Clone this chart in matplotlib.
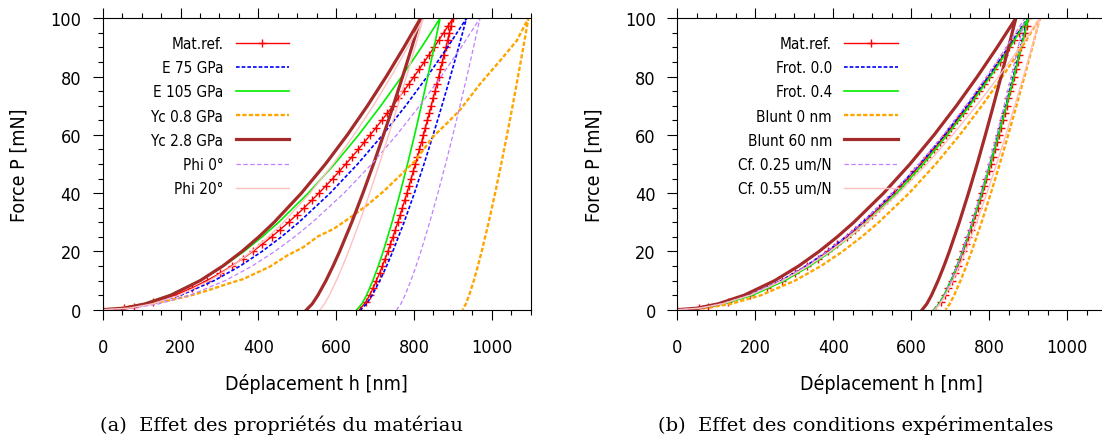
import matplotlib
matplotlib.use('Agg')
import matplotlib.pyplot as plt
from matplotlib.ticker import MultipleLocator

plt.rcParams['font.family'] = ['DejaVu Sans']
plt.rcParams['font.stretch'] = 'condensed'

# niveaux de force communs (mN)
P_charge = [0, 0.5, 2, 5, 10, 15, 20, 25, 30, 40, 50, 60, 70, 80, 90, 100]
P_decharge = [100, 90, 80, 70, 60, 50, 40, 30, 20, 15, 10, 5, 2, 0]

# materiau de reference (points tous les 2.5 mN)
P_ref_charge = [0, 0.5, 1, 2.5, 5, 7.5, 10, 12.5, 15, 17.5, 20, 22.5, 25, 27.5, 30, 32.5,
                35, 37.5, 40, 42.5, 45, 47.5, 50, 52.5, 55, 57.5, 60, 62.5, 65, 67.5, 70,
                72.5, 75, 77.5, 80, 82.5, 85, 87.5, 90, 92.5, 95, 97.5, 100]
h_ref_charge = [0, 55.4, 79.7, 129.2, 186.0, 230.2, 267.8, 301.2, 331.6, 359.6, 385.8, 410.5,
                433.9, 456.2, 477.5, 498.2, 518.0, 537.1, 555.7, 573.7, 591.1, 608.2, 624.9,
                641.1, 657.1, 672.6, 687.9, 702.7, 717.5, 731.9, 746.0, 759.9, 773.6, 787.0,
                800.3, 813.3, 826.2, 838.9, 851.4, 863.7, 876.1, 888.1, 900]
P_ref_decharge = [97.5, 95, 92.5, 90, 87.5, 85, 82.5, 80, 77.5, 75, 72.5, 70, 67.5, 65, 62.5,
                  60, 57.5, 55, 52.5, 50, 47.5, 45, 42.5, 40, 37.5, 35, 32.5, 30, 27.5, 25,
                  22.5, 20, 17.5, 15, 12.5, 10, 7.5, 5, 2.5, 0]
h_ref_decharge = [895.6, 891.0, 886.5, 882.0, 877.4, 872.8, 868.1, 863.4, 858.7, 853.9, 849.1,
                  844.3, 839.4, 834.4, 829.4, 824.4, 819.3, 814.1, 808.9, 803.6, 798.3, 792.8,
                  787.3, 781.8, 776.1, 770.3, 764.4, 758.4, 752.2, 745.9, 739.5, 732.9, 726.0,
                  718.9, 711.4, 703.6, 695.2, 686.1, 675.6, 660]

# (a) proprietes du materiau
h_E75_charge = [0, 61.8, 125.8, 201.2, 287.0, 353.4, 409.6, 459.3, 504.3, 584.5, 655.3, 719.6, 778.8, 833.9, 885.8, 935]
h_E75_decharge = [935, 914.6, 893.5, 871.8, 849.3, 825.8, 801.0, 774.5, 745.6, 729.7, 712.4, 692.6, 678.0, 663]
h_E105_charge = [0, 49.4, 104.6, 171.8, 249.8, 310.9, 363.3, 409.8, 452.2, 528.3, 596.1, 657.8, 714.9, 768.5, 819.0, 867]
h_E105_decharge = [867, 851.5, 835.5, 818.9, 801.6, 783.4, 764.2, 743.6, 720.8, 708.2, 694.3, 678.2, 666.1, 653]
P_Yc08_charge = [0, 0.7, 1.8, 3.0, 4.8, 6.6, 8.8, 10.5, 14.8, 18.5, 21.4, 25.2, 27.7, 31.5, 35.7,
                 40.5, 46.0, 51.1, 59.5, 64.0, 68.5, 77.5, 85.4, 92.3, 100]
h_Yc08_charge = [0, 50, 104, 165, 224, 270, 319, 361, 430, 473, 515, 554, 593, 635, 678, 721,
                 764, 803, 850, 885, 918, 970, 1021, 1064, 1094]
h_Yc08_decharge = [1094, 1080.9, 1067.3, 1053.5, 1039.1, 1024.2, 1008.5, 992.0, 974.0, 964.3, 953.8, 941.9, 933.3, 925]
h_Yc28_charge = [0, 54.0, 109.9, 175.8, 250.8, 308.8, 357.9, 401.3, 440.7, 510.7, 572.6, 628.8, 680.5, 728.7, 774.0, 817]
h_Yc28_decharge = [817, 794.2, 770.8, 746.7, 721.8, 696.0, 668.8, 640.1, 609.0, 592.1, 573.9, 553.3, 538.5, 524]
h_Phi0_charge = [0, 73.1, 143.8, 224.9, 315.3, 384.4, 442.2, 493.1, 538.9, 620.2, 691.4, 755.7, 814.8, 869.6, 921.0, 969.6]
h_Phi0_decharge = [969.6, 953.0, 935.9, 918.3, 900.1, 881.2, 861.4, 840.4, 817.7, 805.4, 792.0, 777.0, 766.2, 755.6]
h_Phi20_charge = [0, 66.1, 127.9, 197.8, 275.3, 333.9, 382.9, 425.8, 464.5, 532.6, 592.4, 646.1, 695.3, 740.9, 783.6, 824]
h_Phi20_decharge = [824, 802.5, 780.6, 758.1, 734.9, 711.0, 686.1, 659.8, 631.8, 616.7, 600.6, 582.7, 570.1, 558.5]

# (b) conditions experimentales
h_Frot0_charge = [0, 55.0, 114.2, 185.2, 266.6, 330.2, 384.1, 432.0, 475.4, 553.3, 622.3, 685.2, 743.3, 797.6, 849.0, 898]
h_Frot0_decharge = [898, 880.0, 861.4, 842.3, 822.4, 801.6, 779.8, 756.4, 731.0, 717.0, 701.8, 684.3, 671.5, 658]
h_Frot4_charge = [0, 59.5, 121.1, 193.7, 276.3, 340.2, 394.3, 442.1, 485.5, 562.6, 630.8, 692.6, 749.6, 802.7, 852.7, 900]
h_Frot4_decharge = [900, 881.8, 863.1, 843.8, 823.8, 802.8, 780.8, 757.2, 731.5, 717.4, 702.0, 684.3, 671.3, 658]
h_Bl0_charge = [0, 70.1, 137.9, 215.6, 302.3, 368.5, 424.0, 472.8, 516.7, 594.6, 662.9, 724.5, 781.1, 833.8, 883.0, 929.6]
h_Bl0_decharge = [929.6, 910.1, 890.1, 869.6, 848.6, 826.8, 804.1, 780.2, 754.7, 741.0, 726.3, 710.0, 698.6, 688]
h_Bl60_charge = [0, 49.5, 104.8, 172.0, 250.1, 311.3, 363.7, 410.3, 452.7, 529.0, 596.8, 658.6, 715.8, 769.4, 819.9, 868]
h_Bl60_decharge = [868, 849.3, 830.2, 810.4, 790.0, 768.9, 746.6, 723.1, 697.6, 683.8, 668.8, 652.0, 639.9, 628]
h_Cf25_charge = [0, 55.4, 114.6, 185.6, 266.9, 330.2, 384.0, 431.6, 474.8, 552.1, 620.4, 682.5, 739.7, 793.1, 843.3, 891]
h_Cf25_decharge = [891, 873.9, 856.2, 838.0, 819.0, 799.1, 778.2, 755.7, 731.1, 717.5, 702.7, 685.7, 673.0, 660]
h_Cf55_charge = [0, 55.6, 115.4, 187.5, 270.8, 336.1, 391.8, 441.4, 486.5, 567.7, 639.9, 705.9, 767.0, 824.3, 878.4, 930]
h_Cf55_decharge = [930, 909.0, 887.4, 865.3, 842.4, 818.6, 793.8, 767.4, 738.9, 723.4, 706.6, 687.6, 673.8, 660]

# styles facon gnuplot
st_ref = dict(color='#ff0000', lw=1.0, marker='+', ms=5.5, mew=1.0)
st_bleu = dict(color='#0000ff', lw=1.2, dashes=(2.2, 1.2))
st_vert = dict(color='#00ee00', lw=1.2)
st_orange = dict(color='#ffa500', lw=1.7, dashes=(1.8, 0.9))
st_brun = dict(color='#a52a2a', lw=2.3)
st_lila = dict(color='#c080ff', lw=0.9, dashes=(3.5, 2.0))
st_rose = dict(color='#ffc0c0', lw=1.0)

fig = plt.figure(figsize=(11.02, 4.39), dpi=100)
ax1 = fig.add_axes([0.0932, 0.2923, 0.3884, 0.6638])
ax2 = fig.add_axes([0.6146, 0.2923, 0.3893, 0.6638])


def courbe(ax, h_c, h_d, label, st, P_c=P_charge, P_d=P_decharge):
    ax.plot(list(h_c) + list(h_d), list(P_c) + list(P_d), label=label, **st)


courbe(ax1, h_ref_charge, h_ref_decharge, 'Mat.ref.', st_ref, P_ref_charge, P_ref_decharge)
courbe(ax1, h_E75_charge, h_E75_decharge, 'E 75 GPa', st_bleu)
courbe(ax1, h_E105_charge, h_E105_decharge, 'E 105 GPa', st_vert)
courbe(ax1, h_Yc08_charge, h_Yc08_decharge, 'Yc 0.8 GPa', st_orange, P_Yc08_charge)
courbe(ax1, h_Yc28_charge, h_Yc28_decharge, 'Yc 2.8 GPa', st_brun)
courbe(ax1, h_Phi0_charge, h_Phi0_decharge, 'Phi 0°', st_lila)
courbe(ax1, h_Phi20_charge, h_Phi20_decharge, 'Phi 20°', st_rose)

courbe(ax2, h_ref_charge, h_ref_decharge, 'Mat.ref.', st_ref, P_ref_charge, P_ref_decharge)
courbe(ax2, h_Frot0_charge, h_Frot0_decharge, 'Frot. 0.0', st_bleu)
courbe(ax2, h_Frot4_charge, h_Frot4_decharge, 'Frot. 0.4', st_vert)
courbe(ax2, h_Bl0_charge, h_Bl0_decharge, 'Blunt 0 nm', st_orange)
courbe(ax2, h_Bl60_charge, h_Bl60_decharge, 'Blunt 60 nm', st_brun)
courbe(ax2, h_Cf25_charge, h_Cf25_decharge, 'Cf. 0.25 um/N', st_lila)
courbe(ax2, h_Cf55_charge, h_Cf55_decharge, 'Cf. 0.55 um/N', st_rose)

for ax, xleg in [(ax1, 0.4353), (ax2, 0.5138)]:
    ax.set_xlim(0, 1100)
    ax.set_ylim(0, 100)
    ax.xaxis.set_major_locator(MultipleLocator(200))
    ax.xaxis.set_minor_locator(MultipleLocator(50))
    ax.yaxis.set_major_locator(MultipleLocator(20))
    ax.yaxis.set_minor_locator(MultipleLocator(5))
    ax.tick_params(which='both', direction='out', top=True, right=False, width=0.8, labelsize=13)
    ax.tick_params(which='major', length=7.5)
    ax.tick_params(which='minor', length=3.5)
    ax.tick_params(axis='x', pad=13)
    ax.tick_params(axis='y', pad=8)
    for sp in ax.spines.values():
        sp.set_linewidth(0.8)
    ax.set_xlabel('Déplacement h [nm]', fontsize=14, va='center')
    ax.set_ylabel('Force P [mN]', fontsize=14, va='center')
    ax.xaxis.set_label_coords(0.5, -0.252)
    ax.yaxis.set_label_coords(-0.195, 0.5)
    ax.legend(loc='upper right', bbox_to_anchor=(xleg, 0.939), frameon=False, markerfirst=False,
              handlelength=3.5, handletextpad=0.8, labelspacing=0.6, borderpad=0,
              borderaxespad=0, numpoints=1, fontsize=11)

fig.text(281 / 1102, 1 - 425 / 439, '(a)  Effet des propriétés du matériau',
         family='DejaVu Serif', stretch='normal', fontsize=14, ha='center', va='center')
fig.text(856 / 1102, 1 - 425 / 439, '(b)  Effet des conditions expérimentales',
         family='DejaVu Serif', stretch='normal', fontsize=14, ha='center', va='center')

fig.savefig('out.png', dpi=100)
